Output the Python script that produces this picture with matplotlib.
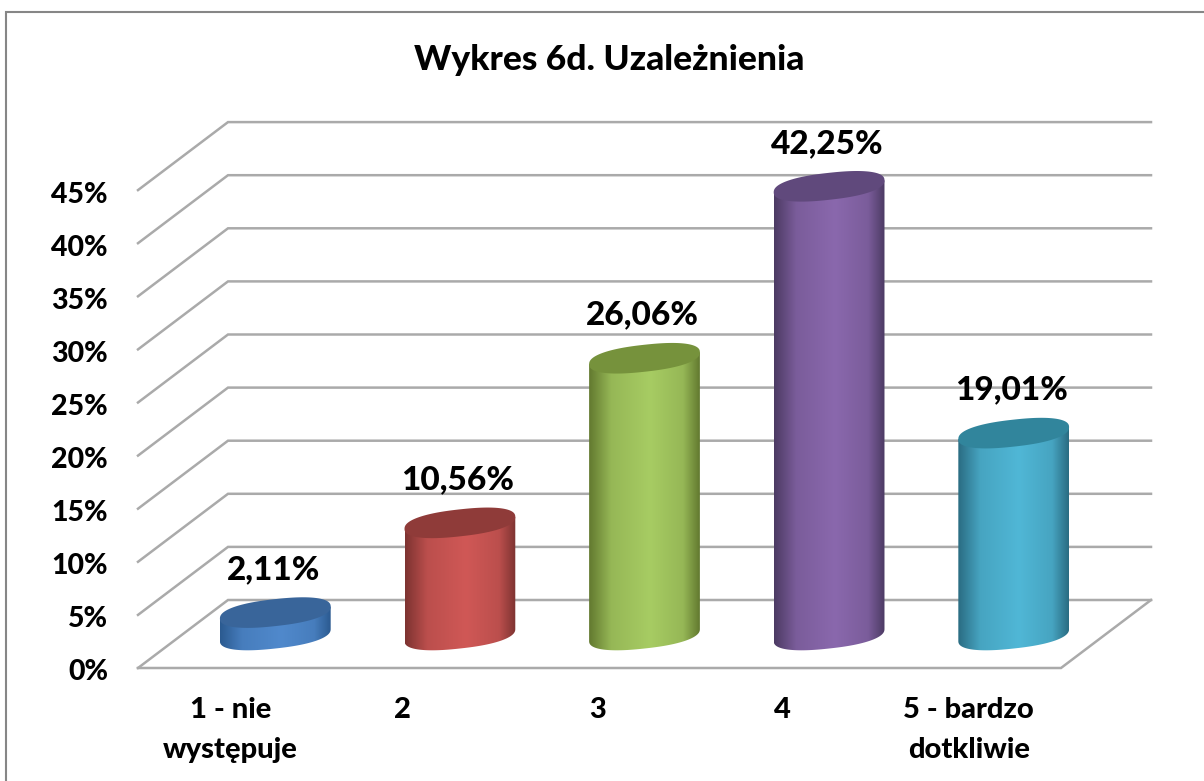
import numpy as np
import matplotlib
matplotlib.use('Agg')
import matplotlib.pyplot as plt
from matplotlib.colors import LinearSegmentedColormap, to_rgb
from matplotlib.patches import Polygon

title = 'Wykres 6d. Uzależnienia'
categories = ['1 - nie\nwystępuje', '2', '3', '4', '5 - bardzo\ndotkliwie']
values = [2.11, 10.56, 26.06, 42.25, 19.01]
value_labels = ['2,11%', '10,56%', '26,06%', '42,25%', '19,01%']
y_ticks = [0, 5, 10, 15, 20, 25, 30, 35, 40, 45]

# kolory: brzeg, srodek, gora walca
edge_colors = ['#2b5a90', '#7d3331', '#62792f', '#4c3a63', '#2a6c82']
mid_colors = ['#5089cc', '#d05856', '#a7cc63', '#8a68ad', '#50b7d6']
top_colors = ['#39659a', '#8f3b39', '#76923c', '#60497c', '#31859c']

W, H = 1204, 781
PX_X = 184.6   # px na kategorie
PX_Y = 10.62   # px na 1%
X0, Y0 = 138, 668  # poczatek osi na obrazku

plt.rcParams['font.family'] = ['Lato', 'DejaVu Sans']
fig = plt.figure(figsize=(W / 100, H / 100), dpi=100)
ax = fig.add_axes([0, 0, 1, 1])
ax.axis('off')
xlim = (-X0 / PX_X, (W - X0) / PX_X)
ylim = ((Y0 - H) / PX_Y, Y0 / PX_Y)

depth_x = 90 / PX_X
depth_y = 68 / PX_Y
n = len(categories)
grid_col = '#aaaaaa'
WEIGHT = 900

# ramka
ax.plot([xlim[0] + 6 / PX_X, xlim[0] + 6 / PX_X, xlim[1]],
        [ylim[0], ylim[1] - 12 / PX_Y, ylim[1] - 12 / PX_Y],
        color='#868686', lw=1.5, solid_joinstyle='miter')

# siatka
for t in y_ticks:
    ax.plot([0, depth_x, n + depth_x], [t, t + depth_y, t + depth_y],
            color=grid_col, lw=1.8, solid_joinstyle='miter')
ax.plot([0, n, n + depth_x], [0, 0, depth_y], color=grid_col, lw=1.8,
        solid_joinstyle='miter')

# walce
half_w = 0.30
half_h = 13.5 / PX_Y
tilt = 6 / PX_Y
base_y = 33 / PX_Y
angles = np.linspace(0, 2 * np.pi, 200)
cos_a = np.sign(np.cos(angles)) * np.abs(np.cos(angles)) ** 0.85
sin_a = np.sign(np.sin(angles)) * np.abs(np.sin(angles)) ** 0.85


def blend(c1, c2, k):
    return tuple(a + (b - a) * k for a, b in zip(to_rgb(c1), to_rgb(c2)))


for i, v in enumerate(values):
    cx = i + 0.5 + depth_x / 2
    ex = cx + half_w * cos_a
    shift = tilt * cos_a + half_h * sin_a
    low = angles > np.pi
    order = np.argsort(-cos_a[low])
    body_x = np.r_[ex[low][order], ex[low][order][::-1]]
    body_y = np.r_[base_y + shift[low][order],
                   (base_y + v + tilt * cos_a[low][order])[::-1]]
    inner = blend(edge_colors[i], mid_colors[i], 0.75)
    cmap = LinearSegmentedColormap.from_list(
        'c%d' % i, [(0, edge_colors[i]), (0.2, inner), (0.55, mid_colors[i]),
                    (0.85, inner), (1, edge_colors[i])])
    im = ax.imshow(np.linspace(0, 1, 256).reshape(1, -1), cmap=cmap, aspect='auto',
                   extent=(cx - half_w, cx + half_w, base_y - 2, base_y + v + 2),
                   zorder=3, interpolation='bilinear')
    clip = Polygon(np.c_[body_x, body_y], closed=True, transform=ax.transData,
                   fc='none', ec='none')
    ax.add_patch(clip)
    im.set_clip_path(clip)
    ax.fill(ex, base_y + v + shift, color=top_colors[i], lw=0, zorder=4)
    ax.text(cx - 2 / PX_X, base_y + v + 43 / PX_Y, value_labels[i], ha='center',
            va='center', fontsize=24, fontweight=WEIGHT, color='black', zorder=5)

# opisy osi
for t in y_ticks:
    ax.text(-30 / PX_X, t - 4.5 / PX_Y, '%d%%' % t, ha='right', va='center',
            fontsize=20.5, fontweight=WEIGHT, color='black')

label_shift = [0, -12, -2, -2, 0]
for i, c in enumerate(categories):
    ax.text(i + 0.5 + label_shift[i] / PX_X, -29 / PX_Y, c, ha='center', va='top',
            fontsize=21, fontweight=WEIGHT, color='black', linespacing=1.65)

ax.text(n / 2 + 0.055, (Y0 - 60) / PX_Y, title, ha='center', va='center',
        fontsize=25.5, fontweight=WEIGHT, color='black')

ax.set_xlim(xlim)
ax.set_ylim(ylim)
fig.savefig('out.png', dpi=100, facecolor='white')
